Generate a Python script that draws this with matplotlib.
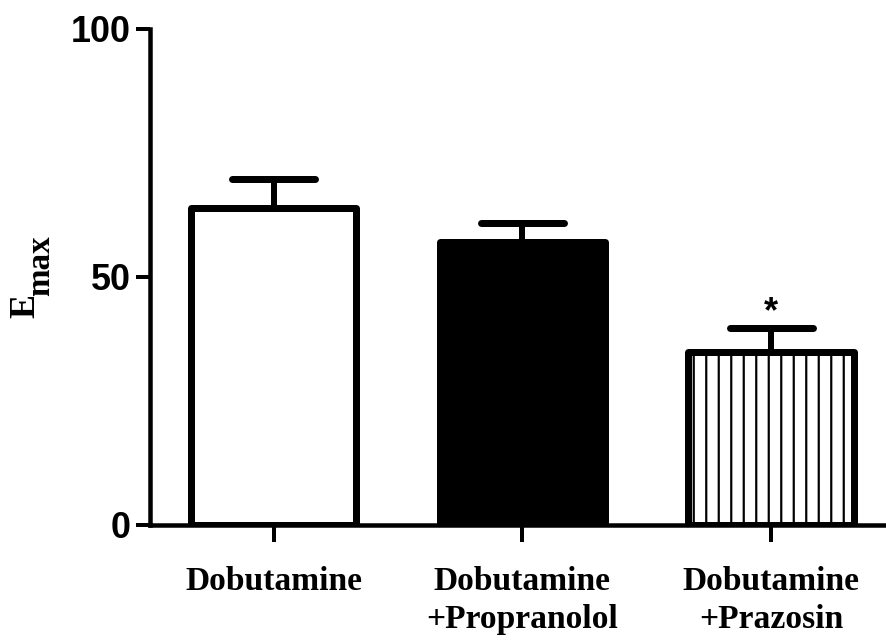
import matplotlib
matplotlib.use("Agg")
import matplotlib.pyplot as plt
import numpy as np

# ---- data ----
categories = ["Dobutamine", "Dobutamine\n+Propranolol", "Dobutamine\n+Prazosin"]
means = [63.9, 57.0, 34.9]
sems = [5.9, 3.9, 4.8]
significance = ["", "", "*"]
y_ticks = [0, 50, 100]

# ---- style ----
DPI = 75
W, H = 886, 641
def px(p):  # pixels -> points
    return p * 72.0 / DPI

plt.rcParams['hatch.linewidth'] = px(2.2)
plt.rcParams['hatch.color'] = 'black'

fig = plt.figure(figsize=(W / DPI, H / DPI), dpi=DPI)
ax = fig.add_axes([150 / W, 1 - 525 / H, (W - 150) / W, (525 - 29) / H])

x = np.arange(len(categories))
faces = ['white', 'black', 'white']
hatches = [None, None, '|']
bar_w = 0.665
bars = ax.bar(x, means, width=bar_w, color=faces, edgecolor='black',
              linewidth=px(7), zorder=2)
for b, h in zip(bars, hatches):
    if h:
        b.set_hatch(h)
    b.set_joinstyle('round')

# error bars (upper only)
tops = np.array(means) + np.array(sems)
ax.vlines(x, means, tops, color='black', linewidth=px(6), zorder=1.5)
cap_half = 0.167
ax.hlines(tops, x - cap_half, x + cap_half, color='black', linewidth=px(7),
          capstyle='round', zorder=3)

for xi, t, s in zip(x, tops, significance):
    if s:
        ax.annotate(s, (xi, t), xytext=(0, px(6)), textcoords='offset points',
                    ha='center', va='baseline', fontsize=px(36),
                    fontweight='bold', family='Liberation Sans')

ax.set_xlim(-0.4965, 2.462)
ax.set_ylim(0, 100)
ax.set_yticks(y_ticks)
ax.set_yticklabels([str(v) for v in y_ticks], fontsize=px(36),
                   fontweight='bold', family='Liberation Sans')
ax.set_xticks(x)
ax.set_xticklabels(categories, fontsize=px(33.5), fontweight='bold',
                   family='Liberation Serif', linespacing=1.3)

for s in ['top', 'right']:
    ax.spines[s].set_visible(False)
for s in ['left', 'bottom']:
    ax.spines[s].set_linewidth(px(4.5))
    ax.spines[s].set_capstyle('projecting')

ax.tick_params(axis='y', length=px(14), width=px(4), pad=px(5))
ax.tick_params(axis='x', length=px(17), width=px(4), pad=px(24))

# y label E_max
fig.text(26 / W, 1 - 306 / H, "E", rotation=90, ha='center', va='center',
         fontsize=px(36), fontweight='bold', family='Liberation Serif')
fig.text(41 / W, 1 - 266 / H, "max", rotation=90, ha='center', va='center',
         fontsize=px(33), fontweight='bold', family='Liberation Serif')

fig.savefig("out.png", dpi=DPI)
